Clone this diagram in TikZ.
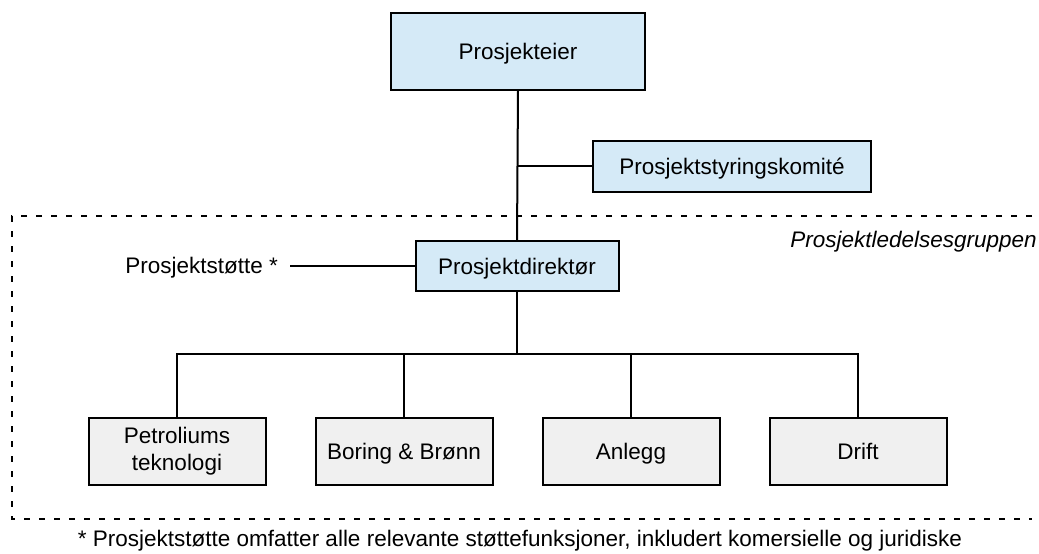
\documentclass[tikz,border=0pt]{standalone}
\usepackage{fontspec}
\setmainfont{Liberation Sans}
\definecolor{leadfill}{HTML}{D5EAF7}
\definecolor{unitfill}{HTML}{F0F0F0}
\begin{document}
\begin{tikzpicture}[x=1pt,y=-1pt,
  every node/.style={font=\fontsize{22.5}{27}\selectfont, inner sep=0pt},
  oneline/.style={text height=16pt, text depth=0pt},
  lead/.style={draw, line width=2pt, fill=leadfill, align=center, oneline},
  unit/.style={draw, line width=2pt, fill=unitfill, align=center,
               minimum width=177pt, minimum height=67pt},
  link/.style={line width=2pt},
  group/.style={line width=2pt, dash pattern=on 6pt off 9pt}]
\useasboundingbox (0,0) rectangle (1039,554);

% management chain
\node[lead, minimum width=254pt, minimum height=77pt] (eier) at (518,51) {Prosjekteier};
\node[lead, minimum width=278pt, minimum height=51pt] (kom) at (732,166) {Prosjektstyringskomité};
\node[lead, minimum width=203pt, minimum height=50pt] (dir) at (517,266) {Prosjektdirektør};

% project units
\node[unit] (b1) at (177,451) {Petroliums\\teknologi};
\node[unit, oneline] (b2) at (404,451) {Boring \& Brønn};
\node[unit, oneline] (b3) at (631,451) {Anlegg};
\node[unit, oneline] (b4) at (858,451) {Drift};

% support function and group label
\node[oneline, anchor=east] (stotte) at (278,265) {Prosjektstøtte *};
\node[oneline, anchor=east, font=\fontsize{22.5}{27}\selectfont\itshape] (grp) at (1037,239) {Prosjektledelsesgruppen};
\node[oneline] (note) at (520,538) {* Prosjektstøtte omfatter alle relevante støttefunksjoner, inkludert komersielle og juridiske};

% connectors
\coordinate (kj) at (eier.south |- kom.west);
\coordinate (sj) at (290,266);
\coordinate (bus) at (517,354);
\draw[link] (eier.south) -- (dir.north);
\draw[link] (kj) -- (kom.west);
\draw[link] (sj) -- (dir.west);
\draw[link] (dir.south) -- (bus);
\draw[link] (b1.north) -- (b1.north |- bus) -- (b4.north |- bus) -- (b4.north);
\draw[link] (b2.north) -- (b2.north |- bus);
\draw[link] (b3.north) -- (b3.north |- bus);

% management group outline
\draw[group] (1032,216) -- (12,216) -- (12,519) -- (1032,519);
\end{tikzpicture}
\end{document}
